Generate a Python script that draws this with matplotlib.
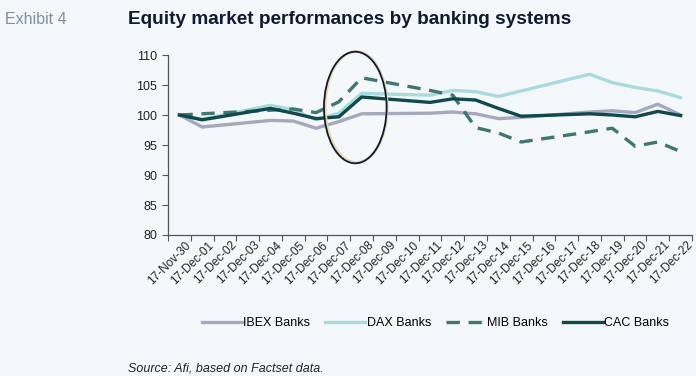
import matplotlib
matplotlib.use("Agg")
import matplotlib.pyplot as plt
from matplotlib.patches import Ellipse
from matplotlib.transforms import ScaledTranslation

# ── data ─────────────────────────────────────
dates = ["17-Nov-30", "17-Dec-01", "17-Dec-02", "17-Dec-03", "17-Dec-04",
         "17-Dec-05", "17-Dec-06", "17-Dec-07", "17-Dec-08", "17-Dec-09",
         "17-Dec-10", "17-Dec-11", "17-Dec-12", "17-Dec-13", "17-Dec-14",
         "17-Dec-15", "17-Dec-16", "17-Dec-17", "17-Dec-18", "17-Dec-19",
         "17-Dec-20", "17-Dec-21", "17-Dec-22"]
# trading days only (weekends are skipped on the category axis)
days = ["17-Nov-30", "17-Dec-01", "17-Dec-04", "17-Dec-05", "17-Dec-06",
        "17-Dec-07", "17-Dec-08", "17-Dec-11", "17-Dec-12", "17-Dec-13",
        "17-Dec-14", "17-Dec-15", "17-Dec-18", "17-Dec-19", "17-Dec-20",
        "17-Dec-21", "17-Dec-22"]

ibex = [100.0, 98.0, 99.1, 99.0, 97.8, 98.9, 100.2, 100.3, 100.5, 100.2,
        99.4, 99.6, 100.5, 100.7, 100.4, 101.8, 100.0]
dax  = [100.0, 99.3, 101.6, 100.9, 99.2, 100.3, 103.6, 103.3, 104.1, 103.9,
        103.1, 104.0, 106.8, 105.4, 104.6, 104.0, 102.9]
mib  = [100.0, 100.2, 100.8, 101.0, 100.4, 102.2, 106.2, 104.1, 103.3, 97.9,
        97.0, 95.5, 97.2, 97.8, 94.8, 95.5, 93.9]
cac  = [100.0, 99.2, 101.1, 100.3, 99.4, 99.7, 103.0, 102.1, 102.7, 102.5,
        101.1, 99.8, 100.2, 100.0, 99.7, 100.6, 99.9]

# ── style ────────────────────────────────────
BG    = "#f5f8fa"
TEXT  = "#222222"
FONT  = ["Liberation Sans", "DejaVu Sans"]
plt.rcParams["font.family"] = FONT

fig = plt.figure(figsize=(6.96, 3.76), dpi=100, facecolor=BG)
ax = fig.add_axes([0.2414, 0.375, 0.7529, 0.4787], facecolor=BG)

x = [dates.index(d) for d in days]
lw = 2.4
ax.plot(x, ibex, color="#a4a9bf", lw=lw, label="IBEX Banks", zorder=3)
ax.plot(x, dax,  color="#a8dbe0", lw=lw, label="DAX Banks", zorder=3)
ax.plot(x, mib,  color="#3c7774", lw=lw, label="MIB Banks", zorder=4,
        dashes=(4, 2.6))
ax.plot(x, cac,  color="#0e4a4d", lw=lw, label="CAC Banks", zorder=5)

# highlight ellipse around 8 Dec
ax.add_patch(Ellipse((7.76, 101.35), 2.72, 18.5, fill=False, clip_on=False,
                     edgecolor="#e8d6a6", lw=2.0, zorder=6))
ax.add_patch(Ellipse((7.72, 101.25), 2.75, 18.6, fill=False, clip_on=False,
                     edgecolor="#0d1a3a", lw=1.3, zorder=7))

# ── axes ─────────────────────────────────────
ax.set_xlim(-0.5, len(dates) - 0.5)
ax.set_ylim(80, 110)
ax.set_yticks(range(80, 111, 5))
ax.set_xticks([i - 0.5 for i in range(len(dates) + 1)])
ax.set_xticklabels([])
ax.set_xticks(range(len(dates)), minor=True)
ax.set_xticklabels(dates, minor=True, rotation=45, ha="right", va="top",
                   rotation_mode="anchor", fontsize=8.5, color=TEXT)
ax.tick_params(axis="x", which="minor", length=0, pad=3)
ax.tick_params(axis="x", which="major", length=4, width=0.8, color="#555555")
ax.tick_params(axis="y", length=4, width=0.8, color="#555555",
               labelsize=9, labelcolor=TEXT, pad=4)
for lab in ax.get_xticklabels(minor=True):
    lab.set_transform(lab.get_transform() +
                      ScaledTranslation(4 / 72, 0, fig.dpi_scale_trans))

for s in ["top", "right"]:
    ax.spines[s].set_visible(False)
for s in ["left", "bottom"]:
    ax.spines[s].set_color("#555555")
    ax.spines[s].set_linewidth(0.9)

# ── texts ────────────────────────────────────
fig.text(0.007, 0.968, "Exhibit 4", fontsize=11.5, color="#7d8ea6",
         va="top", ha="left")
fig.text(0.184, 0.972, "Equity market performances by banking systems",
         fontsize=13.7, fontweight="bold", color="#111a33", va="top", ha="left")
fig.text(0.184, 0.005, "Source: Afi, based on Factset data.", fontsize=9,
         style="italic", color=TEXT, va="bottom", ha="left")

fig.legend(loc="center", bbox_to_anchor=(0.626, 0.141), ncol=4, frameon=False,
           fontsize=9, handlelength=3.2, handletextpad=0.1, columnspacing=1.2)

fig.savefig("out.png", dpi=100, facecolor=BG)
